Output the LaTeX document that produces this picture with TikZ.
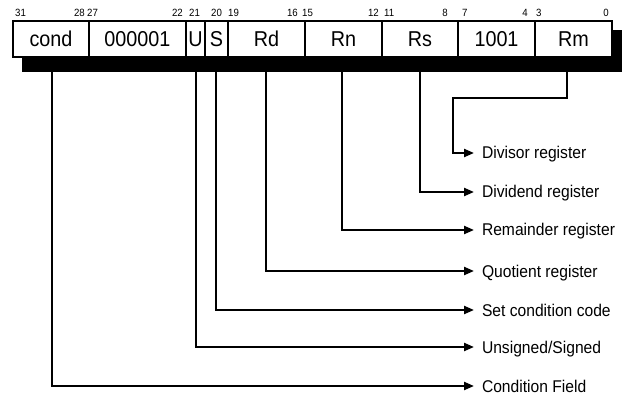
\documentclass[tikz,border=0pt]{standalone}
\usepackage{fontspec}
\setmainfont{Liberation Sans}
\newfontfamily\narrowfont[FakeStretch=0.92]{Liberation Sans}
\usetikzlibrary{arrows.meta}
\tikzset{
  field/.style={draw=black, line width=2pt, fill=white, inner sep=0pt,
    minimum height=36pt, text height=15pt, text depth=0pt,
    font=\narrowfont\fontsize{21.5}{23}\selectfont},
  bitnum/.style={inner sep=0pt, font=\narrowfont\fontsize{10.5}{11}\selectfont},
  lbl/.style={anchor=west, inner sep=0pt, outer xsep=8pt, text height=12pt,
    text depth=0pt, font=\narrowfont\fontsize{17}{19}\selectfont},
  conn/.style={line width=2.2pt, -{Triangle[length=10pt,width=8pt]}}
}
\begin{document}
\begin{tikzpicture}[x=1pt,y=-1pt]
\useasboundingbox (0,0) rectangle (629,398);
% shadow
\fill[black] (22,30) rectangle (622,72);
% fields
\node[field, minimum width=76pt] (cond) at (51,39) {cond};
\node[field, minimum width=97pt] (op) at (137.5,39) {000001};
\node[field, minimum width=19pt] (u) at (195.5,39) {U};
\node[field, minimum width=23pt] (s) at (216.5,39) {S};
\node[field, minimum width=77pt] (rd) at (266.5,39) {Rd};
\node[field, minimum width=77pt] (rn) at (343.5,39) {Rn};
\node[field, minimum width=76pt] (rs) at (420,39) {Rs};
\node[field, minimum width=77pt] (op2) at (496.5,39) {1001};
\node[field, minimum width=77pt] (rm) at (573.5,39) {Rm};
% bit numbers
\node[bitnum, anchor=base west] (b31) at (15,17) {31};
\node[bitnum, anchor=base east] (b28) at (85,17) {28};
\node[bitnum, anchor=base west] (b27) at (87,17) {27};
\node[bitnum, anchor=base east] (b22) at (183,17) {22};
\node[bitnum, anchor=base west] (b21) at (189,17) {21};
\node[bitnum, anchor=base west] (b20) at (211,17) {20};
\node[bitnum, anchor=base west] (b19) at (228,17) {19};
\node[bitnum, anchor=base east] (b16) at (298,17) {16};
\node[bitnum, anchor=base west] (b15) at (302,17) {15};
\node[bitnum, anchor=base east] (b12) at (379,17) {12};
\node[bitnum, anchor=base west] (b11) at (384,17) {11};
\node[bitnum, anchor=base east] (b8) at (448,17) {8};
\node[bitnum, anchor=base west] (b7) at (462,17) {7};
\node[bitnum, anchor=base east] (b4) at (528,17) {4};
\node[bitnum, anchor=base west] (b3) at (536,17) {3};
\node[bitnum, anchor=base east] (b0) at (609,17) {0};
% labels
\node[lbl] (divisor) at (474,153) {Divisor register};
\node[lbl] (dividend) at (474,192) {Dividend register};
\node[lbl] (remainder) at (474,230) {Remainder register};
\node[lbl] (quotient) at (474,271) {Quotient register};
\node[lbl] (setcc) at (474,310) {Set condition code};
\node[lbl] (unsigned) at (474,347) {Unsigned/Signed};
\node[lbl] (condfield) at (474,386) {Condition Field};
% connector start points (bottom of shadow)
\coordinate (c-cond) at (52,72);
\coordinate (c-u) at (196,72);
\coordinate (c-s) at (216,72);
\coordinate (c-rd) at (266,72);
\coordinate (c-rn) at (342,72);
\coordinate (c-rs) at (420,72);
\coordinate (c-rm) at (567,72);
\coordinate (rm-bend1) at (567,98);
\coordinate (rm-bend2) at (453,98);
% connectors
\draw[conn] (c-rm) -- (rm-bend1) -- (rm-bend2) |- (divisor.west);
\draw[conn] (c-rs) |- (dividend.west);
\draw[conn] (c-rn) |- (remainder.west);
\draw[conn] (c-rd) |- (quotient.west);
\draw[conn] (c-s) |- (setcc.west);
\draw[conn] (c-u) |- (unsigned.west);
\draw[conn] (c-cond) |- (condfield.west);
\end{tikzpicture}
\end{document}
